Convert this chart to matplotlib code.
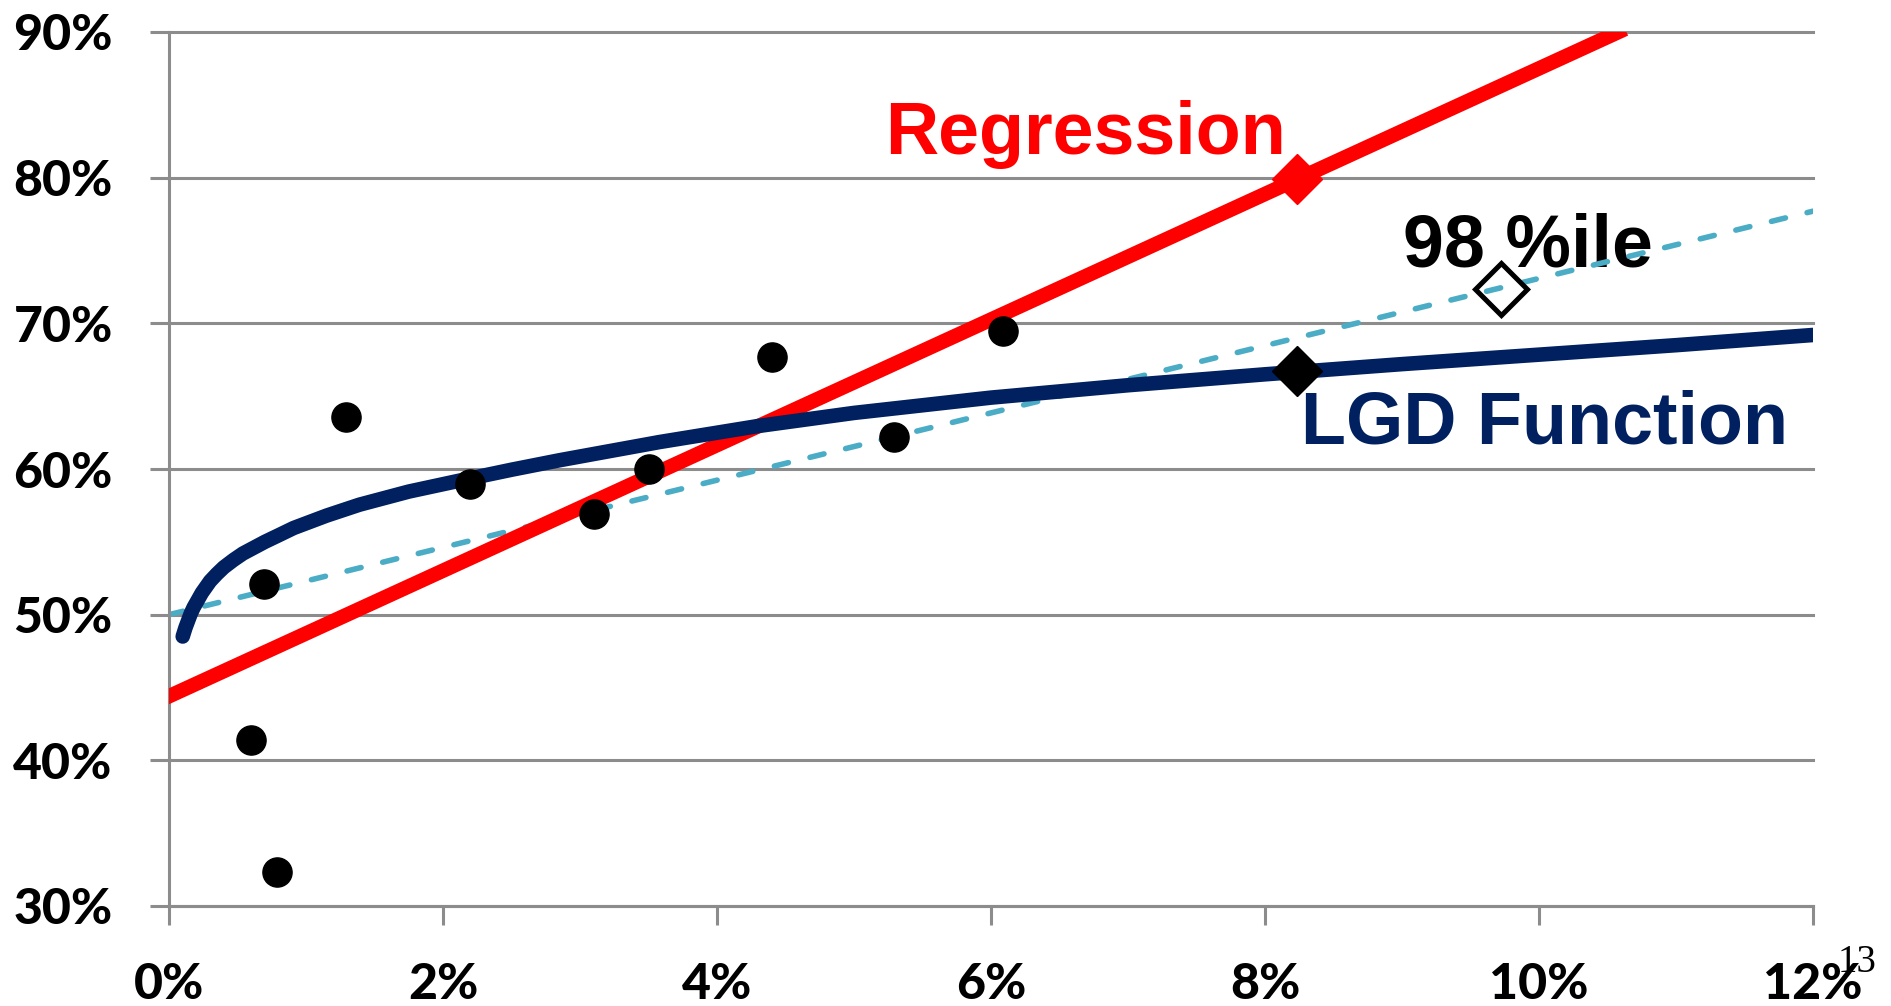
import matplotlib
matplotlib.use("Agg")
import matplotlib.pyplot as plt

# default rate (%) vs LGD (%)
obs_x = [0.60, 0.79, 0.69, 1.29, 2.20, 3.10, 3.50, 4.40, 5.29, 6.09]
obs_y = [41.4, 32.3, 52.1, 63.6, 59.0, 56.9, 60.0, 67.7, 62.2, 69.5]

lgd_x = [0.10, 0.12, 0.14, 0.16, 0.18, 0.21, 0.24, 0.27, 0.30, 0.35, 0.40, 0.47, 0.54,
         0.62, 0.70, 0.80, 0.91, 1.15, 1.39, 1.75, 2.12, 2.50, 2.85, 3.20, 3.58, 4.30,
         5.00, 6.00, 7.00, 8.00, 9.00, 10.00, 11.00, 12.00]
lgd_y = [48.5, 49.1, 49.6, 50.1, 50.5, 51.0, 51.5, 51.9, 52.3, 52.8, 53.25, 53.75, 54.2,
         54.6, 55.0, 55.45, 55.95, 56.8, 57.55, 58.45, 59.2, 59.95, 60.6, 61.2, 61.85, 62.95,
         63.85, 64.9, 65.75, 66.5, 67.2, 67.85, 68.5, 69.2]

trend_x = [0.0, 12.0]
trend_y = [50.0, 77.7]

reg_intercept = 44.4
reg_slope = 4.31

reg_pt = (8.23, 79.9)
lgd_pt = (8.23, 66.75)
pct98_pt = (9.72, 72.36)

xticks = [0, 2, 4, 6, 8, 10, 12]
yticks = [30, 40, 50, 60, 70, 80, 90]

grey = "#8c8c8c"
navy = "#002060"

fig = plt.figure(figsize=(18.91, 10.06), dpi=100)
ax = fig.add_axes([169 / 1891, 1 - 906 / 1006, (1813 - 169) / 1891, (906 - 32) / 1006])

ax.plot(trend_x, trend_y, color="#4bacc6", lw=4, dashes=(2.6, 4.0), dash_capstyle="round", zorder=2)
ax.axline((0, reg_intercept), slope=reg_slope, color="red", lw=10.5, zorder=3)
ax.plot(lgd_x, lgd_y, color=navy, lw=10.5, solid_capstyle="round", solid_joinstyle="round", zorder=4)

ax.plot(obs_x, obs_y, "o", color="black", ms=21, zorder=5)
ax.plot(*reg_pt, "D", color="red", ms=25, zorder=5)
ax.plot(*lgd_pt, "D", color="black", ms=25, zorder=5)
ax.plot(*pct98_pt, "D", mfc="none", mec="black", mew=3.6, ms=26, zorder=5)

ax.text(5.23, 81.63, "Regression", color="red", fontsize=53, fontweight="bold",
        family="Liberation Sans", ha="left", va="baseline")
ax.text(9.01, 73.89, "98 %ile", color="black", fontsize=53, fontweight="bold",
        family="Liberation Sans", ha="left", va="baseline", zorder=1)
ax.text(8.26, 61.77, "LGD Function", color=navy, fontsize=53, fontweight="bold",
        family="Liberation Sans", ha="left", va="baseline")

ax.set_xlim(0, 12)
ax.set_ylim(30, 90)
ax.set_xticks(xticks)
ax.set_xticklabels([f"{t}%" for t in xticks])
ax.set_yticks(yticks)
ax.set_yticklabels([f"{t}%" for t in yticks])

for s in ["top", "right"]:
    ax.spines[s].set_visible(False)
for s in ["left", "bottom"]:
    ax.spines[s].set_color(grey)
    ax.spines[s].set_linewidth(2.2)

ax.tick_params(direction="out", length=13.5, width=2.2, color=grey, pad=27)
for lab in ax.get_xticklabels() + ax.get_yticklabels():
    lab.set_fontfamily("Lato")
    lab.set_fontweight(900)
    lab.set_fontsize(36)

ax.grid(axis="y", color=grey, lw=2.2)
ax.set_axisbelow(True)
for gl in ax.get_ygridlines():
    gl.set_clip_on(False)

fig.text(1838 / 1891, 1 - 944 / 1006, "13", family="Liberation Serif", fontsize=28,
         ha="left", va="top")

fig.savefig("out.png", dpi=100)
